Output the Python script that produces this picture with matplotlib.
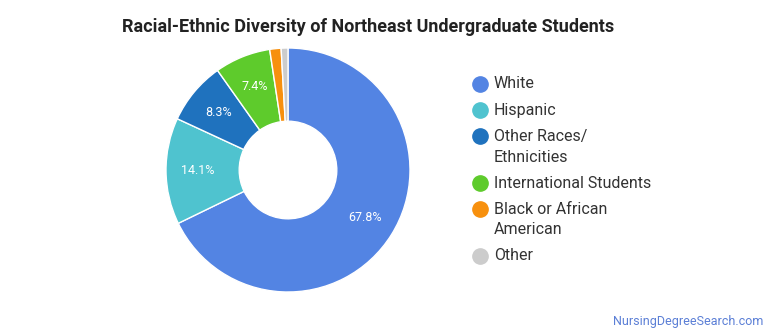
import matplotlib
matplotlib.use("Agg")
import matplotlib.pyplot as plt

plt.rcParams['font.family'] = ['Roboto', 'DejaVu Sans']

categories = ["White", "Hispanic", "Other Races/\nEthnicities", "International Students",
              "Black or African\nAmerican", "Other"]
values = [67.8, 14.1, 8.3, 7.4, 1.5, 0.9]
colors = ["#5384e3", "#4fc3cf", "#1f72be", "#5ecb2c", "#f7900e", "#cccccc"]
title = "Racial-Ethnic Diversity of Northeast Undergraduate Students"

W, H = 770, 335
fig = plt.figure(figsize=(W/100, H/100), dpi=100)

cx, cy, R = 288, 170, 122
half = 125
ax = fig.add_axes([(cx-half)/W, (H-cy-half)/H, 2*half/W, 2*half/H])

def fmt(p):
    return f"{p:.1f}%" if p >= 5 else ""

wedges, texts, autotexts = ax.pie(values, colors=colors, startangle=90, counterclock=False,
                                  radius=1, autopct=fmt, pctdistance=0.74,
                                  wedgeprops=dict(width=0.6, edgecolor='white', linewidth=1),
                                  textprops=dict(color='white', fontsize=9))
ax.set_xlim(-half/R, half/R)
ax.set_ylim(-half/R, half/R)
ax.set_aspect('equal')
ax.axis('off')

fig.text(368/W, 1-27/H, title, ha='center', va='center', fontsize=13, fontweight='bold', color='#222222')

# legend
row_y = [84, 110, 136, 183, 209, 256]
lax = fig.add_axes([0, 0, 1, 1])
lax.set_xlim(0, W)
lax.set_ylim(H, 0)
lax.axis('off')
for lab, col, y in zip(categories, colors, row_y):
    lax.plot([480], [y], marker='o', markersize=11, color=col, linestyle='none')
    for i, line in enumerate(lab.split('\n')):
        lax.text(494, y + 21*i, line, ha='left', va='center', fontsize=11.5, color='#333333')

fig.text(763/W, 1-321/H, "NursingDegreeSearch.com", ha='right', va='center', fontsize=9, color='#5b7fd6')

fig.savefig("out.png", dpi=100, facecolor='white')
